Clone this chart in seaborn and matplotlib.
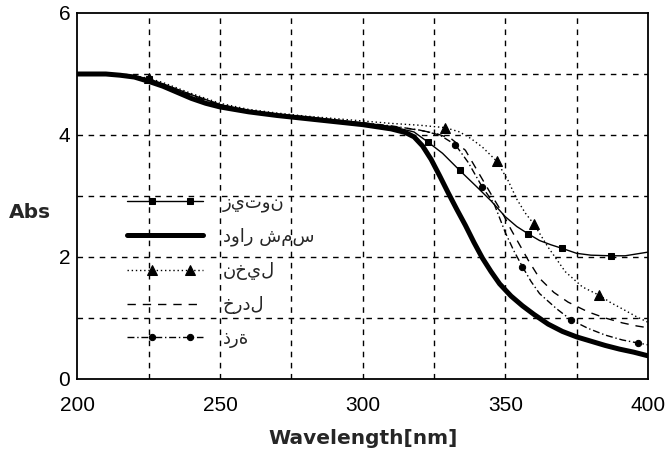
import numpy as np
import pandas as pd
import matplotlib
matplotlib.use("Agg")
import matplotlib.pyplot as plt
from matplotlib.lines import Line2D
from matplotlib.legend_handler import HandlerLine2DCompound
import seaborn as sns

# ---- data ----
# زيتون (olive) - squares, thin solid
olive_x = [200, 210, 220, 225, 230, 240, 250, 260, 270, 280, 290, 300, 310, 318, 323, 328, 334, 340, 345, 350, 354, 358, 362, 366, 370, 375, 380, 387, 392, 396, 400]
olive_y = [5.0, 5.0, 4.96, 4.92, 4.84, 4.66, 4.5, 4.4, 4.34, 4.3, 4.25, 4.2, 4.14, 4.05, 3.88, 3.7, 3.42, 3.15, 2.92, 2.66, 2.5, 2.38, 2.27, 2.2, 2.14, 2.06, 2.03, 2.02, 2.02, 2.05, 2.08]
olive_mk = [225, 323, 334, 358, 370, 387]

# دوار شمس (sunflower) - thick solid
sun_x = [200, 210, 215, 220, 225, 230, 235, 240, 245, 250, 260, 270, 280, 290, 300, 310, 315, 318, 321, 324, 327, 330, 333, 336, 339, 342, 345, 348, 352, 356, 360, 365, 370, 375, 380, 385, 390, 395, 400]
sun_y = [5.0, 5.0, 4.98, 4.95, 4.88, 4.8, 4.7, 4.6, 4.52, 4.46, 4.38, 4.32, 4.27, 4.22, 4.17, 4.1, 4.04, 3.97, 3.82, 3.6, 3.33, 3.05, 2.78, 2.52, 2.24, 1.98, 1.76, 1.56, 1.36, 1.2, 1.06, 0.9, 0.78, 0.69, 0.62, 0.55, 0.49, 0.44, 0.38]

# نخيل (palm) - triangles, dotted
palm_x = [200, 210, 220, 225, 230, 240, 250, 260, 270, 280, 290, 300, 310, 320, 329, 334, 338, 342, 347, 351, 354, 357, 360, 365, 371, 377, 383, 387, 391, 396, 400]
palm_y = [5.0, 5.0, 4.97, 4.93, 4.86, 4.68, 4.52, 4.42, 4.36, 4.31, 4.27, 4.23, 4.19, 4.16, 4.12, 4.05, 3.94, 3.8, 3.57, 3.25, 2.95, 2.72, 2.54, 2.16, 1.76, 1.51, 1.37, 1.25, 1.15, 1.02, 0.93]
palm_mk = [225, 329, 347, 360, 383]

# خردل (mustard) - dashed
must_x = [200, 210, 220, 225, 230, 240, 250, 260, 270, 280, 290, 300, 310, 320, 326, 331, 336, 342, 346, 349, 352, 355, 358, 362, 367, 372, 379, 385, 391, 396, 400]
must_y = [5.0, 5.0, 4.95, 4.9, 4.82, 4.64, 4.48, 4.39, 4.33, 4.28, 4.23, 4.19, 4.14, 4.08, 4.02, 3.94, 3.75, 3.27, 2.95, 2.72, 2.45, 2.2, 1.95, 1.65, 1.42, 1.26, 1.1, 1.0, 0.92, 0.87, 0.84]

# ذرة (corn) - circles, dash-dot
corn_x = [200, 210, 220, 225, 230, 240, 250, 260, 270, 280, 290, 300, 310, 320, 327, 332.5, 337, 342, 346, 350, 353, 356, 359, 362, 368, 373, 379, 385, 391, 396.5, 400]
corn_y = [5.0, 5.0, 4.96, 4.9, 4.83, 4.66, 4.5, 4.4, 4.34, 4.29, 4.24, 4.2, 4.15, 4.08, 4.0, 3.84, 3.55, 3.14, 2.88, 2.4, 2.1, 1.84, 1.6, 1.4, 1.15, 0.97, 0.83, 0.72, 0.64, 0.59, 0.56]
corn_mk = [225, 332.5, 342, 356, 373, 396.5]

labels = ["زيتون", "دوار شمس", "نخيل", "خردل", "ذرة"]

x_ticks = [200, 250, 300, 350, 400]
y_ticks = [0, 2, 4, 6]

sns.set_theme(style="white")
plt.rcParams['font.family'] = ['Liberation Sans', 'DejaVu Sans']

fig = plt.figure(figsize=(6.66, 4.5), dpi=100)
ax = fig.add_axes([77.3/666, 71/450, (648-77.3)/666, (379-13)/450])

def mask(xs, mk):
    return list(np.isin(np.array(xs, dtype=float), np.array(mk, dtype=float)))

series = [
    (olive_x, olive_y, dict(lw=1.0, ls='-', marker='s', ms=5, markevery=mask(olive_x, olive_mk))),
    (sun_x, sun_y, dict(lw=3.6, ls='-')),
    (palm_x, palm_y, dict(lw=1.0, ls=(0, (1, 2)), marker='^', ms=7.5, markevery=mask(palm_x, palm_mk))),
    (must_x, must_y, dict(lw=1.0, ls=(0, (6, 5)))),
    (corn_x, corn_y, dict(lw=1.0, ls=(0, (5, 2, 1, 2)), marker='o', ms=4.5, markevery=mask(corn_x, corn_mk))),
]

handles = []
for (xs, ys, kw), lab in zip(series, labels):
    df = pd.DataFrame({"x": xs, "y": ys})
    n_before = len(ax.lines)
    sns.lineplot(data=df, x="x", y="y", ax=ax, color="black", estimator=None,
                 sort=False, markeredgecolor="black", **kw)
    handles.append(ax.lines[n_before])

ax.set_xlim(200, 400)
ax.set_ylim(0, 6)
ax.set_xticks(x_ticks)
ax.set_yticks(y_ticks)
ax.grid(False)
for gx in np.arange(225, 400, 25):
    ax.axvline(gx, color='black', lw=1.0, ls=(0, (4, 4)), zorder=0)
for gy in [1, 2, 3, 4, 5]:
    ax.axhline(gy, color='black', lw=1.0, ls=(0, (4, 4)), zorder=0)

ax.tick_params(axis='both', which='major', direction='in', length=7, width=1.0,
               colors='black', labelsize=15)
ax.tick_params(axis='x', which='major', pad=12)
ax.tick_params(axis='y', which='major', pad=5)
for sp in ax.spines.values():
    sp.set_color('black')
    sp.set_linewidth(1.3)

ax.set_xlabel("Wavelength[nm]", fontsize=14.5, fontweight='bold', family='DejaVu Sans')
ax.xaxis.set_label_coords(0.5, -0.137)
ax.set_ylabel("Abs", fontsize=14.5, fontweight='bold', family='DejaVu Sans', rotation=0,
              ha='center', va='center')
ax.yaxis.set_label_coords(-0.083, 0.454)


class InsetMarkerHandler(HandlerLine2DCompound):
    """Full-length legend line with two markers placed inside it."""
    def get_xdata(self, legend, xdescent, ydescent, width, height, fontsize):
        xdata = np.array([-xdescent, -xdescent + width])
        xmark = np.array([-xdescent + 0.33 * width, -xdescent + 0.83 * width])
        return xdata, xmark


leg = ax.legend(handles, labels, loc='upper left', bbox_to_anchor=(127/666, 1 - 193/450),
                bbox_transform=fig.transFigure, frameon=False, numpoints=2,
                handlelength=4.2, handletextpad=1.1, labelspacing=0.88,
                borderpad=0, borderaxespad=0,
                handler_map={Line2D: InsetMarkerHandler()},
                prop={'family': 'DejaVu Sans', 'size': 13})

fig.savefig("out.png", dpi=100, facecolor='white')
